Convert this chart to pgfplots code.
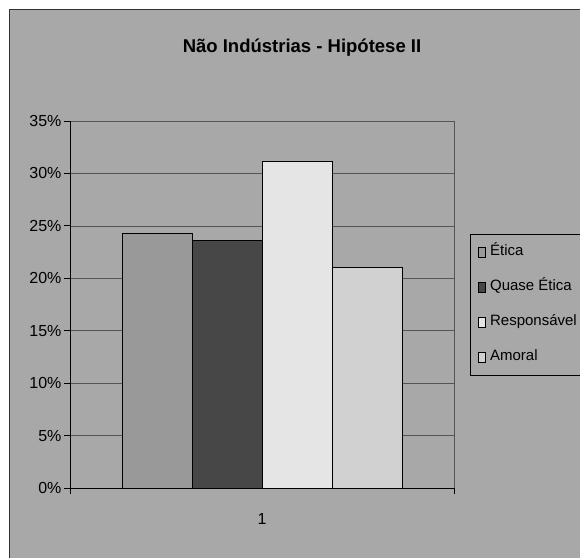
\documentclass[border=0pt]{standalone}
\usepackage{fontspec}
\setmainfont{Liberation Sans}
\usepackage{pgfplots}
\pgfplotsset{compat=1.18}

\definecolor{chartbg}{gray}{0.66}
\definecolor{cEtica}{gray}{0.60}
\definecolor{cQuase}{gray}{0.28}
\definecolor{cResp}{gray}{0.90}
\definecolor{cAmoral}{gray}{0.82}
\definecolor{gridc}{gray}{0.33}

% small outlined square as legend key
\pgfplotsset{
  sqlegend/.style={legend image code/.code={%
    \draw[##1, draw=black, line width=0.8pt] (0pt,-5pt) rectangle (7pt,5pt);}},
}

\begin{document}
\begin{tikzpicture}
\useasboundingbox (0pt,0pt) rectangle (580pt,557pt);
\clip (0pt,0pt) rectangle (580pt,557pt);
\fill[white] (0pt,0pt) rectangle (580pt,557pt);
% chart area
\filldraw[fill=chartbg, draw=black!80, line width=1pt] (9.5pt,-5pt) rectangle (600pt,547pt);
\node[font=\bfseries\fontsize{18.5}{22}\selectfont] at (302pt,509pt) {Não Indústrias - Hipótese II};
\begin{axis}[
  at={(70pt,69pt)}, anchor=south west,
  scale only axis, width=384pt, height=367pt,
  xmin=0, xmax=1, ymin=0, ymax=35,
  ybar=0pt, bar width=70pt,
  every axis plot post/.append style={sqlegend},
  axis lines*=left,
  axis line style={black, line width=0.9pt},
  tick align=outside,
  major tick length=6pt,
  tick style={black, line width=0.8pt},
  ytick={0,5,...,35},
  yticklabel={\pgfmathprintnumber{\tick}\%},
  xtick={0,1}, xticklabels={},
  xmajorgrids, ymajorgrids,
  grid style={gridc, line width=0.7pt},
  extra x ticks={0.5}, extra x tick labels={1},
  extra x tick style={major tick length=0pt, grid=none,
    tick label style={yshift=-22pt}},
  /pgf/number format/assume math mode=true,
  tick label style={font=\fontsize{16}{19}\selectfont},
  yticklabel style={xshift=1pt},
  legend style={at={(1.0417,0.692)}, anchor=north west,
    draw=black, line width=0.6pt, fill=chartbg,
    font=\fontsize{15}{18}\selectfont,
    inner xsep=8pt, inner ysep=10.5pt,
    row sep=20pt, column sep=4pt,
    nodes={inner sep=0pt, text height=11pt, text depth=4pt}},
  legend cell align=left,
]
\addplot[fill=cEtica, draw=black, line width=1pt] coordinates {(0.5,24.3)};
\addplot[fill=cQuase, draw=black, line width=1pt] coordinates {(0.5,23.6)};
\addplot[fill=cResp, draw=black, line width=1pt] coordinates {(0.5,31.1)};
\addplot[fill=cAmoral, draw=black, line width=1pt] coordinates {(0.5,21.0)};
\legend{Ética, Quase Ética, Responsável, Amoral}
\end{axis}
\end{tikzpicture}
\end{document}
